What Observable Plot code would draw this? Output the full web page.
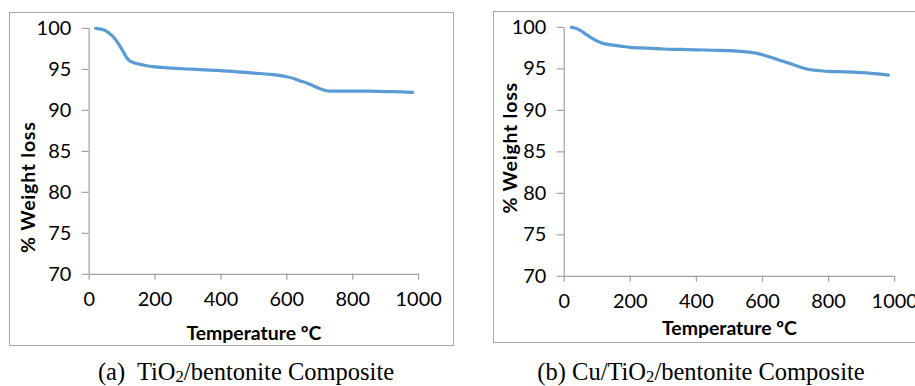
<!DOCTYPE html>
<html>
<head>
<meta charset="utf-8">
<script src="https://cdn.jsdelivr.net/npm/d3@7"></script>
<script src="https://cdn.jsdelivr.net/npm/@observablehq/plot@0.6"></script>
<style>
  html, body { margin: 0; padding: 0; background: #fff; }
  body { width: 915px; height: 386px; position: relative; overflow: hidden; }
  .panel { position: absolute; border: 1px solid #a6a6a6; box-sizing: border-box; }
  .panel svg { position: absolute; left: -1px; top: -1px; overflow: visible; }
  .caption { position: absolute; font-family: "Liberation Serif", "Times New Roman", serif; font-size: 24.5px; line-height: 28px; color: #000; white-space: pre; transform: translateX(-50%); }
  .caption sub { font-size: 0.68em; vertical-align: -0.12em; line-height: 0; }
</style>
</head>
<body>
<div id="panelA" class="panel" style="left:9px; top:12px; width:445px; height:334px;"></div>
<div id="panelB" class="panel" style="left:493px; top:11px; width:445px; height:332px;"></div>
<div class="caption" style="left:246px; top:358px;">(a)  TiO<sub>2</sub>/bentonite Composite</div>
<div class="caption" style="left:701px; top:358px;">(b) Cu/TiO<sub>2</sub>/bentonite Composite</div>
<script>
// Thermogravimetric curves: temperature (°C) vs remaining weight (%)
const tempA = [20, 30, 45, 60, 75, 90, 100, 110, 120, 130, 150, 175, 200, 250, 300, 350, 400, 450, 500, 550, 580, 600, 620, 640, 660, 680, 700, 720, 740, 800, 850, 900, 950, 982];
const weightA = [100.0, 99.95, 99.8, 99.45, 98.9, 98.05, 97.4, 96.7, 96.15, 95.9, 95.65, 95.45, 95.3, 95.15, 95.05, 94.95, 94.85, 94.7, 94.55, 94.4, 94.25, 94.1, 93.9, 93.6, 93.35, 93.0, 92.65, 92.4, 92.35, 92.35, 92.35, 92.3, 92.25, 92.2];

const tempB = [22, 35, 50, 65, 80, 100, 120, 140, 170, 200, 250, 300, 350, 400, 450, 500, 550, 580, 600, 630, 660, 690, 720, 745, 770, 800, 850, 900, 950, 981];
const weightB = [100.0, 99.9, 99.6, 99.2, 98.8, 98.35, 98.05, 97.9, 97.75, 97.6, 97.5, 97.4, 97.35, 97.3, 97.25, 97.2, 97.05, 96.9, 96.7, 96.35, 95.95, 95.55, 95.15, 94.9, 94.8, 94.7, 94.65, 94.55, 94.4, 94.25];

const xTicks = [0, 200, 400, 600, 800, 1000];
const yTicks = [70, 75, 80, 85, 90, 95, 100];

const xTitle = "Temperature ºC";
const yTitle = "% Weight loss";

const axisGray = "#a0a0a0";
const lineBlue = "#5b9bd5";
const tickFont = "Lato, 'Open Sans', sans-serif";
const tickSize = 20;
const titleSize = 19.5;

function tgaChart(temps, weights, m, yTitleShift, xTitleOffset) {
  const rows = temps.map((t, i) => ({t, w: weights[i]}));
  const svg = Plot.plot({
    width: m.width,
    height: m.height,
    marginLeft: m.left,
    marginRight: m.right,
    marginTop: m.top,
    marginBottom: m.bottom,
    style: {fontFamily: tickFont, fontSize: tickSize + "px", color: "#000", background: "transparent", overflow: "visible"},
    x: {domain: [0, 1000], ticks: xTicks, label: null},
    y: {domain: [70, 100], ticks: yTicks, label: null},
    marks: [
      Plot.ruleX([0], {stroke: axisGray, strokeWidth: 1.2}),
      Plot.ruleY([70], {stroke: axisGray, strokeWidth: 1.2}),
      Plot.axisX({ticks: xTicks, tickFormat: d => String(d), tickSize: 6, tickPadding: 12, stroke: axisGray, strokeWidth: 1.2, fill: "#000", label: null, fontSize: tickSize}),
      Plot.axisY({ticks: yTicks, tickFormat: d => String(d), tickSize: 7, tickPadding: 11, stroke: axisGray, strokeWidth: 1.2, fill: "#000", label: null, fontSize: tickSize}),
      Plot.line(rows, {x: "t", y: "w", stroke: lineBlue, strokeWidth: 3.2, curve: "catmull-rom"}),
      Plot.text([xTitle], {frameAnchor: "bottom", dy: xTitleOffset, text: d => d, fontWeight: "bold", fontSize: titleSize, fill: "#000", lineAnchor: "middle", textAnchor: "middle"}),
      Plot.text([yTitle], {frameAnchor: "left", dx: yTitleShift.dx, dy: yTitleShift.dy, rotate: -90, text: d => d, fontWeight: "bold", fontSize: titleSize, fill: "#000", lineAnchor: "middle", textAnchor: "middle", className: "ytitle"})
    ]
  });
  // the vertical title is set a little wider, as in the original Calibri setting
  d3.select(svg).selectAll(".ytitle text").style("letter-spacing", "0.8px");
  return svg;
}

document.getElementById("panelA").appendChild(
  tgaChart(tempA, weightA, {width: 445, height: 334, left: 80, right: 34, top: 16, bottom: 71}, {dx: -61, dy: 36}, 60)
);
document.getElementById("panelB").appendChild(
  tgaChart(tempB, weightB, {width: 445, height: 332, left: 71, right: 42, top: 16, bottom: 66}, {dx: -54, dy: -4}, 53)
);
</script>
</body>
</html>
